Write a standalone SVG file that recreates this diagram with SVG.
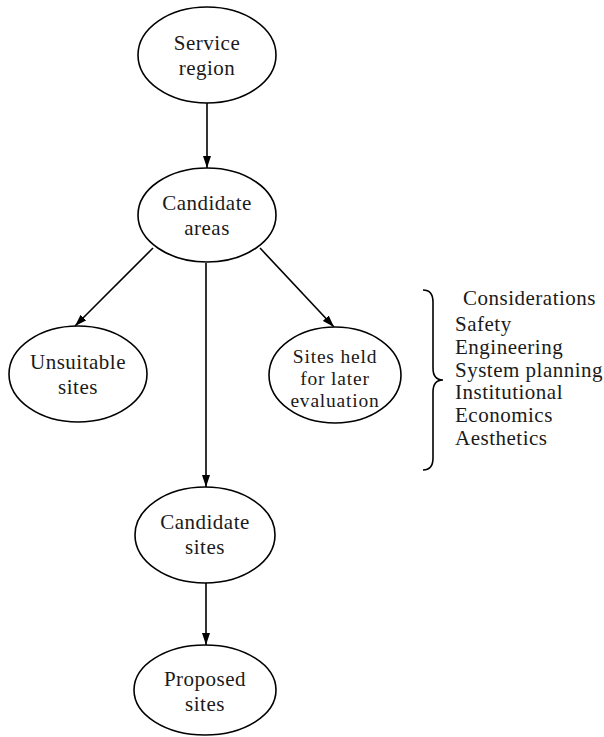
<svg xmlns="http://www.w3.org/2000/svg" width="604" height="737" viewBox="0 0 604 737">
<style>
.node ellipse{fill:#fff;stroke:#000;stroke-width:1.6}
text{font-family:"Liberation Serif","Times New Roman",serif;font-size:21px;letter-spacing:0.5px;fill:#1a1a1a}
.c{text-anchor:middle}
.s{font-size:19.5px;letter-spacing:0.8px}
.edge{stroke:#000;stroke-width:1.6;fill:none;marker-end:url(#arr)}
.brace{stroke:#000;stroke-width:1.6;fill:none}
</style>
<defs>
<marker id="arr" viewBox="0 0 12 8" refX="12" refY="4" markerWidth="12" markerHeight="8" markerUnits="userSpaceOnUse" orient="auto">
<path d="M0,0 L12,4 L0,8 Z" fill="#000"/>
</marker>
</defs>
<g id="connectors">
<line class="edge" x1="207" y1="103" x2="207" y2="168"/>
<line class="edge" x1="153" y1="248" x2="75" y2="326"/>
<line class="edge" x1="260" y1="248" x2="334" y2="327"/>
<line class="edge" x1="206" y1="263" x2="206" y2="487"/>
<line class="edge" x1="206" y1="583" x2="206" y2="645"/>
</g>
<g id="service-region" class="node">
<ellipse cx="207" cy="55" rx="69" ry="48"/>
<text class="c" x="207" y="50">Service</text>
<text class="c" x="207" y="75">region</text>
</g>
<g id="candidate-areas" class="node">
<ellipse cx="207" cy="215" rx="69" ry="47"/>
<text class="c" x="207" y="210">Candidate</text>
<text class="c" x="207" y="235">areas</text>
</g>
<g id="unsuitable-sites" class="node">
<ellipse cx="78" cy="374" rx="69" ry="48"/>
<text class="c" x="78" y="369">Unsuitable</text>
<text class="c" x="78" y="394">sites</text>
</g>
<g id="sites-held" class="node">
<ellipse cx="335" cy="375" rx="66" ry="48"/>
<text class="c s" x="335" y="363">Sites held</text>
<text class="c s" x="335" y="385">for later</text>
<text class="c s" x="335" y="407">evaluation</text>
</g>
<g id="candidate-sites" class="node">
<ellipse cx="205" cy="535" rx="70" ry="48"/>
<text class="c" x="205" y="529">Candidate</text>
<text class="c" x="205" y="554">sites</text>
</g>
<g id="proposed-sites" class="node">
<ellipse cx="205" cy="690" rx="71" ry="45"/>
<text class="c" x="205" y="686">Proposed</text>
<text class="c" x="205" y="711">sites</text>
</g>
<g id="considerations">
<path class="brace" d="M423,290 Q433,290 433,302 L433,368 Q433,380 443,380 Q433,380 433,392 L433,458 Q433,470 423,470"/>
<text x="463" y="305">Considerations</text>
<text x="455" y="331">Safety</text>
<text x="455" y="354">Engineering</text>
<text x="455" y="377">System planning</text>
<text x="455" y="399">Institutional</text>
<text x="455" y="422">Economics</text>
<text x="455" y="445">Aesthetics</text>
</g>
</svg>
